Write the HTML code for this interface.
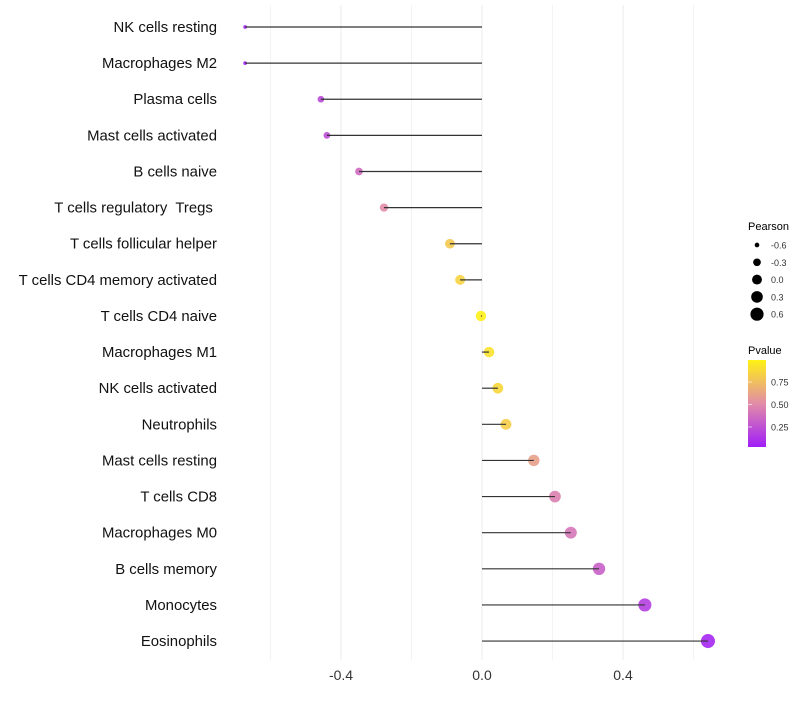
<!DOCTYPE html>
<html><head><meta charset="utf-8"><style>
body{margin:0;background:#fff;font-family:"Liberation Sans",sans-serif}
text{white-space:pre}
</style></head><body>
<svg id="chart" width="800" height="700" xmlns="http://www.w3.org/2000/svg">
<defs><linearGradient id="pg" x1="0" y1="1" x2="0" y2="0">
<stop offset="0" stop-color="#a01ef8"/><stop offset="0.5" stop-color="#e28ca8"/><stop offset="1" stop-color="#fff214"/></linearGradient></defs>
<g id="grid"></g><g id="marks"></g><g id="ylabels"></g><g id="xticks"></g>
<g font-size="10">
<text x="748" y="230" font-size="11">Pearson</text>
<g id="sizeleg"></g></g>
<g>
<text x="748" y="354" font-size="11">Pvalue</text>
<rect x="748" y="360" width="18" height="87" fill="url(#pg)"/>
<g id="colleg"></g></g>
</svg>
<script>
const cells=["NK cells resting","Macrophages M2","Plasma cells","Mast cells activated","B cells naive","T cells regulatory  Tregs ","T cells follicular helper","T cells CD4 memory activated","T cells CD4 naive","Macrophages M1","NK cells activated","Neutrophils","Mast cells resting","T cells CD8","Macrophages M0","B cells memory","Monocytes","Eosinophils"];
const pearson=[-0.672,-0.672,-0.457,-0.44,-0.349,-0.278,-0.091,-0.062,-0.003,0.02,0.045,0.068,0.147,0.207,0.252,0.332,0.462,0.641];
const pvalue=[0.03,0.03,0.2,0.22,0.35,0.5,0.8,0.85,0.99,0.92,0.87,0.82,0.6,0.45,0.4,0.3,0.15,0.04];
const xTicks=[-0.4,0.0,0.4];
const xGrid=[-0.6,-0.2,0.2,0.6];
const sizeLegVals=[-0.6,-0.3,0.0,0.3,0.6];
const colLegVals=[0.25,0.5,0.75];
const NS="http://www.w3.org/2000/svg";
const X=v=>482+v*352.5;
const Y=i=>27+i*36.12;
const R=v=>Math.sqrt(Math.max(2.5,27+35*v));
function col(p){const s=[[160,30,248],[226,140,168],[255,242,20]];let a,b,t;if(p<0.5){a=s[0];b=s[1];t=p/0.5}else{a=s[1];b=s[2];t=(p-0.5)/0.5}
return `rgb(${a.map((c,k)=>Math.round(c+(b[k]-c)*t)).join(',')})`}
function mk(tag,at,parent,txt){const e=document.createElementNS(NS,tag);for(const k in at)e.setAttribute(k,at[k]);if(txt!==undefined)e.textContent=txt;document.getElementById(parent).appendChild(e);return e}
xGrid.forEach(v=>{const l=mk('line',{x1:X(v),x2:X(v),y1:5,y2:660,stroke:'#f3f3f3','stroke-width':1},'grid');

});
xTicks.forEach(v=>{const l=mk('line',{x1:X(v),x2:X(v),y1:5,y2:660,stroke:'#ebebeb','stroke-width':1},'grid');

});
xTicks.forEach(v=>{const t=mk('text',{x:X(v),y:680,'text-anchor':'middle','font-size':14,fill:'#333'},'xticks',v.toFixed(1));

});
cells.forEach((c,i)=>{
const t=mk('text',{x:217,y:Y(i)+5,'text-anchor':'end','font-size':14.9,fill:'#111'},'ylabels',c);


const d=mk('circle',{cx:X(pearson[i]),cy:Y(i),r:R(pearson[i]),fill:col(pvalue[i]),'fill-opacity':0.9},'marks');


const l=mk('line',{x1:X(0),x2:X(pearson[i]),y1:Y(i),y2:Y(i),stroke:'#333','stroke-width':1.2},'marks');


});
sizeLegVals.forEach((v,k)=>{const y=245+k*17.3;
const c=mk('circle',{cx:757,cy:y,r:R(v)*0.95,fill:'#000'},'sizeleg');


const t=mk('text',{x:771,y:y+3.5,'font-size':9,fill:'#333'},'sizeleg',v.toFixed(1));

});
colLegVals.forEach(v=>{const y=449.5-v*90;
const l=mk('line',{x1:748,x2:752,y1:y,y2:y,stroke:'#fff','stroke-width':0.6},'colleg');


const t=mk('text',{x:771,y:y+3.5,'font-size':9,fill:'#333'},'colleg',v.toFixed(2));

});
</script>
</body></html>
